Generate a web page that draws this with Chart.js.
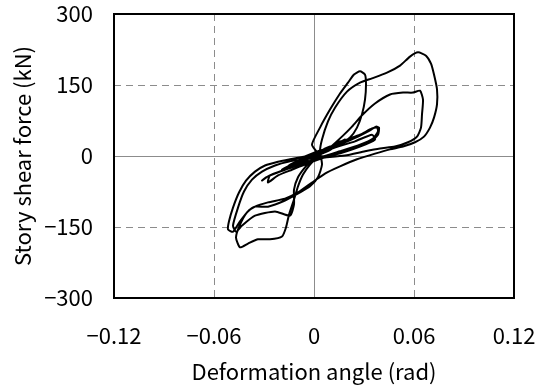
<!DOCTYPE html>
<html>
<head>
<meta charset="utf-8">
<script src="https://cdn.jsdelivr.net/npm/chart.js@4.4.1/dist/chart.umd.min.js"></script>
<style>
  html, body { margin: 0; padding: 0; background: #fff; }
  #wrap { width: 540px; height: 385px; position: relative; }
</style>
</head>
<body>
<div id="wrap"><canvas id="hysteresis"></canvas></div>
<script>
// Tick values
const angleTicks = [-0.12, -0.06, 0, 0.06, 0.12];
const forceTicks = [-300, -150, 0, 150, 300];

// Loading history (rad, kN), in drawing order
const smallAngle = [0, 0.0048, 0.0096, 0.0108, 0.0048, -0.0036, -0.0096, -0.0108, -0.0054, 0.0024, 0.0114, 0.0156, 0.0144, 0.0066, -0.0024, -0.0114, -0.0156, -0.0132, -0.0054, 0.0036, 0.0126, 0.0186, 0.0174, 0.0096, 0.0006, -0.0084, -0.0162, -0.0192, -0.0144, -0.0054, 0.0024, 0.0084, 0.006, -0.0024, -0.0084, -0.0054, 0.0036];
const smallForce = [1, 12, 20, 16, 5, -5, -14, -12, -3, 7, 22, 31, 22, 10, -3, -16, -22, -16, -5, 10, 24, 35, 26, 14, -1, -14, -26, -29, -20, -7, 5, 16, 10, -1, -7, -1, 12];

const mediumAngle = [0.0066, 0.0186, 0.0276, 0.0348, 0.0378, 0.0384, 0.0354, 0.0276, 0.0156, 0.0036, -0.0084, -0.0192, -0.0276, -0.0312, -0.0288, -0.0204, -0.0084, 0.0036, 0.0156, 0.0264, 0.0336, 0.0372, 0.039, 0.0384, 0.0336, 0.0216, 0.0096, -0.0024, -0.0132, -0.0216, -0.0276, -0.0264, -0.0174, -0.0054, 0.0024];
const mediumForce = [14, 33, 45, 58, 60, 52, 37, 24, 10, -3, -18, -31, -43, -52, -45, -33, -14, 5, 24, 41, 54, 62, 60, 45, 29, 14, 1, -14, -29, -41, -56, -41, -29, -7, 3];

const narrowAngle = [-0.0012, 0.0036, 0.0096, 0.0156, 0.0204, 0.024, 0.0276, 0.0306, 0.0312, 0.0306, 0.0288, 0.0258, 0.0216, 0.0144, 0.0048, -0.0054, -0.0144, -0.0216, -0.0294, -0.0354, -0.0408, -0.045, -0.0486, -0.051, -0.0516, -0.0486, -0.0444, -0.0396, -0.0354, -0.0276, -0.0174, -0.0084, -0.0024, 0.0024, 0.0048, 0.0036];
const narrowForce = [24, 60, 98, 132, 155, 172, 179, 172, 151, 119, 88, 60, 39, 22, 10, -1, -7, -12, -20, -33, -52, -77, -109, -138, -155, -160, -138, -117, -107, -107, -94, -77, -64, -45, -18, 10];

const bigAngle = [0.0048, 0.0084, 0.0126, 0.0198, 0.0276, 0.0348, 0.0438, 0.0516, 0.0576, 0.0624, 0.0672, 0.0702, 0.072, 0.0738, 0.0738, 0.072, 0.0696, 0.066, 0.0606, 0.0534, 0.0456, 0.0366, 0.0258, 0.0156, 0.0066, -0.0012, -0.0096, -0.0174, -0.0276, -0.0354, -0.0402, -0.0444, -0.0468, -0.0444, -0.0396, -0.0336, -0.0264, -0.0192, -0.0168, -0.015, -0.012, -0.0096, -0.0066, -0.0024, 0.0024];
const bigForce = [35, 73, 102, 136, 155, 164, 176, 191, 210, 219, 212, 195, 172, 141, 109, 81, 60, 41, 29, 20, 14, 5, -7, -22, -37, -56, -77, -90, -98, -107, -119, -145, -172, -193, -185, -176, -176, -170, -151, -124, -92, -64, -39, -18, -1];

const innerAngle = [0.0096, 0.0174, 0.0228, 0.0288, 0.0366, 0.0456, 0.0534, 0.0594, 0.0636, 0.0654, 0.0648, 0.0642, 0.0618, 0.0564, 0.0486, 0.0396, 0.0306, 0.0186, 0.0066, -0.0054, -0.0156, -0.0234, -0.0312, -0.0372, -0.042, -0.0456, -0.0486, -0.0468, -0.0432, -0.0354, -0.0234, -0.0144, -0.012, -0.012, -0.0096, -0.0054, -0.0006];
const innerForce = [18, 43, 62, 86, 111, 130, 134, 134, 138, 119, 88, 60, 41, 29, 20, 16, 10, 1, -3, -7, -12, -20, -33, -50, -75, -109, -147, -160, -147, -126, -117, -126, -102, -71, -45, -24, -7];

const endAngle = [0.0096, 0.0246, 0.0348, 0.0366, 0.0276, 0.0126, 0];
const endForce = [14, 31, 45, 35, 20, 3, -3];

const angleParts = [smallAngle, mediumAngle, narrowAngle, bigAngle, innerAngle, endAngle];
const forceParts = [smallForce, mediumForce, narrowForce, bigForce, innerForce, endForce];

const points = [];
angleParts.forEach((xs, i) => {
  xs.forEach((x, j) => points.push({ x, y: forceParts[i][j] }));
});

function fmtTick(value, digits) {
  const v = Number(value.toFixed(digits));
  if (v === 0) return '0';
  return (v < 0 ? '\u2212' : '') + Math.abs(v).toFixed(digits);
}

const FONT = "'Noto Sans CJK JP', 'DejaVu Sans', sans-serif";

const gridDash = (ctx) => (ctx.tick && ctx.tick.value === 0 ? [] : [7, 5]);

const framePlugin = {
  id: 'frame',
  afterDraw(chart) {
    const { ctx, chartArea: a } = chart;
    ctx.save();
    ctx.strokeStyle = '#000';
    ctx.lineWidth = 2;
    ctx.strokeRect(a.left, a.top, a.right - a.left, a.bottom - a.top);
    ctx.restore();
  },
};

new Chart(document.getElementById('hysteresis'), {
  type: 'line',
  data: {
    datasets: [{
      data: points,
      borderColor: '#000',
      borderWidth: 2,
      pointRadius: 0,
      tension: 0.2,
      fill: false,
    }],
  },
  options: {
    responsive: true,
    maintainAspectRatio: false,
    animation: false,
    layout: { padding: { left: 0, right: 26, top: 14, bottom: 0 } },
    plugins: {
      legend: { display: false },
      tooltip: { enabled: false },
    },
    scales: {
      x: {
        type: 'linear',
        min: -0.12,
        max: 0.12,
        afterBuildTicks: (scale) => { scale.ticks = angleTicks.map((value) => ({ value })); },
        afterFit: (scale) => {
          scale.height = 87;
          scale.paddingLeft = 0;
          scale.paddingRight = 0;
        },
        grid: { color: '#8c8c8c', lineWidth: 1, drawTicks: false },
        border: { display: false, dash: gridDash },
        ticks: {
          color: '#000',
          padding: 24,
          maxRotation: 0,
          font: { family: FONT, size: 22 },
          callback: (v) => fmtTick(v, 2),
        },
        title: {
          display: true,
          text: 'Deformation angle (rad)',
          color: '#000',
          font: { family: FONT, size: 22 },
          padding: { top: 0, bottom: 0 },
        },
      },
      y: {
        type: 'linear',
        min: -300,
        max: 300,
        afterBuildTicks: (scale) => { scale.ticks = forceTicks.map((value) => ({ value })); },
        afterFit: (scale) => {
          scale.width = 114;
          scale.paddingTop = 0;
          scale.paddingBottom = 0;
        },
        grid: { color: '#8c8c8c', lineWidth: 1, drawTicks: false },
        border: { display: false, dash: gridDash },
        ticks: {
          color: '#000',
          padding: 21,
          font: { family: FONT, size: 22 },
          callback: (v) => fmtTick(v, 0),
        },
        title: {
          display: true,
          text: 'Story shear force (kN)',
          color: '#000',
          font: { family: FONT, size: 22 },
          padding: { top: 9, bottom: 0 },
        },
      },
    },
  },
  plugins: [framePlugin],
});
</script>
</body>
</html>
